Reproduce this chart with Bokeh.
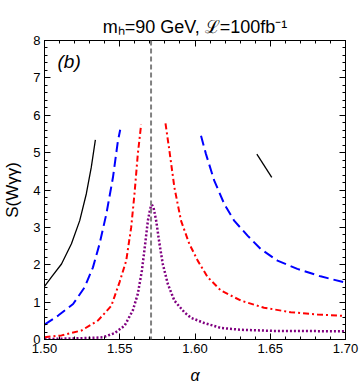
from bokeh.plotting import figure
from bokeh.models import (LinearAxis, FixedTicker, Span, Label, Range1d)
from bokeh.embed import file_html
from bokeh.resources import INLINE

# ---- data ----
x_ticks = [1.50, 1.55, 1.60, 1.65, 1.70]
x_minor = [round(1.50 + 0.01 * i, 2) for i in range(21)]
y_ticks = [0, 1, 2, 3, 4, 5, 6, 7, 8]
y_minor = [round(0.2 * i, 1) for i in range(41)]

alpha_center = 1.5708

black_l_x = [1.500, 1.5046, 1.5113, 1.5179, 1.5234, 1.5278, 1.5311, 1.5338]
black_l_y = [1.42, 1.67, 2.02, 2.56, 3.18, 3.90, 4.61, 5.34]
black_r_x = [1.6411, 1.651]
black_r_y = [4.96, 4.34]

blue_l_x = [1.500, 1.5091, 1.519, 1.5267, 1.5322, 1.5366, 1.5411, 1.5455, 1.5488, 1.5503]
blue_l_y = [0.40, 0.64, 0.95, 1.40, 1.93, 2.56, 3.36, 4.34, 5.32, 5.61]
blue_r_x = [1.604, 1.6073, 1.6128, 1.6194, 1.626, 1.6349, 1.6437, 1.6548, 1.668, 1.6834, 1.700]
blue_r_y = [5.45, 4.96, 4.25, 3.63, 3.18, 2.78, 2.42, 2.11, 1.89, 1.69, 1.52]

red_l_x = [1.500, 1.5113, 1.5245, 1.5356, 1.5444, 1.550, 1.5543, 1.5576, 1.5598, 1.5620, 1.5642]
red_l_y = [0.06, 0.11, 0.24, 0.51, 0.90, 1.55, 2.11, 3.00, 3.90, 4.96, 5.75]
red_r_x = [1.5804, 1.5830, 1.5863, 1.5907, 1.5962, 1.6018, 1.6084, 1.6172, 1.6305,
           1.6459, 1.6636, 1.6813, 1.700]
red_r_y = [5.78, 5.05, 4.07, 3.18, 2.56, 2.11, 1.67, 1.31, 1.04, 0.85, 0.73, 0.67, 0.63]

purple_x = [1.500, 1.5333, 1.5389, 1.5466, 1.5532, 1.5587, 1.5620, 1.5647, 1.5669,
            1.5687, 1.5700, 1.5709, 1.5718, 1.5724, 1.5742, 1.5764, 1.5786, 1.5819,
            1.5863, 1.5929, 1.5974, 1.6062, 1.6172, 1.6305, 1.6525, 1.700]
purple_y = [0.01, 0.045, 0.06, 0.17, 0.37, 0.78, 1.22, 1.84, 2.56,
            3.18, 3.45, 3.60, 3.58, 3.54, 3.18, 2.56, 2.02, 1.49,
            1.04, 0.73, 0.58, 0.44, 0.31, 0.26, 0.23, 0.22]

FONT = "Liberation Sans"

p = figure(width=360, height=387, output_backend="svg", toolbar_location=None,
           x_range=Range1d(1.50, 1.70), y_range=Range1d(0, 8),
           min_border_left=43, min_border_right=15, min_border_top=40,
           min_border_bottom=48)
p.xgrid.visible = False
p.ygrid.visible = False
p.outline_line_color = "black"
p.outline_line_width = 1
p.background_fill_color = "white"
p.border_fill_color = "white"

p.title.text = "mₕ=90 GeV, ℒ=100fb⁻¹"
p.title.align = "center"
p.title.text_font = FONT
p.title.text_font_size = "18px"
p.title.text_font_style = "normal"
p.title.text_color = "black"
p.title.standoff = 7

def style_axis(ax, ticks, minor, show_labels):
    ax.ticker = FixedTicker(ticks=ticks, minor_ticks=minor)
    ax.major_tick_in = 6
    ax.major_tick_out = 0
    ax.minor_tick_in = 3
    ax.minor_tick_out = 0
    ax.major_tick_line_color = "black"
    ax.minor_tick_line_color = "black"
    ax.axis_line_color = "black"
    ax.major_label_text_font = FONT
    ax.major_label_text_font_size = "13px"
    ax.major_label_text_color = "black"
    ax.major_label_standoff = 4
    if not show_labels:
        ax.major_label_overrides = {t: "" for t in ticks}
        ax.major_label_standoff = 0

style_axis(p.xaxis[0], x_ticks, x_minor, True)
style_axis(p.yaxis[0], y_ticks, y_minor, True)
p.xaxis[0].major_label_overrides = {t: f"{t:.2f}" for t in x_ticks}
p.xaxis[0].axis_label = "α"
p.xaxis[0].axis_label_text_font = FONT
p.xaxis[0].axis_label_text_font_style = "italic"
p.xaxis[0].axis_label_text_font_size = "16px"
p.xaxis[0].axis_label_text_color = "black"
p.xaxis[0].axis_label_standoff = 11
p.yaxis[0].axis_label = "S(Wγγ)"
p.yaxis[0].axis_label_text_font = FONT
p.yaxis[0].axis_label_text_font_style = "normal"
p.yaxis[0].axis_label_text_font_size = "17px"
p.yaxis[0].axis_label_text_color = "black"
p.yaxis[0].axis_label_standoff = 8

top = LinearAxis()
style_axis(top, x_ticks, x_minor, False)
p.add_layout(top, "above")
right = LinearAxis()
style_axis(right, y_ticks, y_minor, False)
p.add_layout(right, "right")

p.add_layout(Span(location=alpha_center, dimension="height",
                  line_color="#808080", line_width=2, line_dash="5 3"))

p.line(black_l_x, black_l_y, line_color="black", line_width=1.3)
p.line(black_r_x, black_r_y, line_color="black", line_width=1.3)
p.line(blue_l_x, blue_l_y, line_color="#0000ff", line_width=2, line_dash="10 5")
p.line(blue_r_x, blue_r_y, line_color="#0000ff", line_width=2, line_dash="10 5")
p.line(red_l_x, red_l_y, line_color="#ff0000", line_width=2, line_dash="6 3 2 3")
p.line(red_r_x, red_r_y, line_color="#ff0000", line_width=2, line_dash="6 3 2 3")
p.line(purple_x, purple_y, line_color="#800080", line_width=2.5, line_dash="2 2")

# panel label
p.add_layout(Label(x=13, y=278, x_units="screen", y_units="screen", text="(b)",
                   text_font=FONT, text_font_style="italic",
                   text_font_size="19px", text_color="black",
                   text_baseline="middle"))

open("out.html", "w").write(file_html(p, INLINE))
